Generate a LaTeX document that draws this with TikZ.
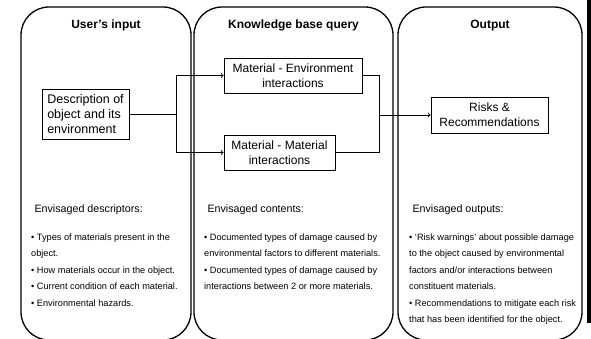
\documentclass[tikz,border=0pt]{standalone}
\usepackage{fontspec}
\setmainfont{Liberation Sans}
\usetikzlibrary{calc,positioning}

\begin{document}
\begin{tikzpicture}[x=1pt,y=-1pt,>=to,
  panel/.style={draw,line width=1.3pt,rounded corners=28pt},
  stepbox/.style={draw,line width=0.9pt,inner sep=0pt,align=center,minimum height=35pt,font=\fontsize{12}{15}\selectfont},
  title/.style={anchor=base,font=\fontsize{12}{14}\selectfont\bfseries},
  heading/.style={anchor=base west,font=\fontsize{10.7}{13}\selectfont},
  items/.style={anchor=north west,align=left,inner sep=0pt,font=\fontsize{9.2}{16.5}\selectfont},
  link/.style={line width=0.9pt}]
\useasboundingbox (0,0) rectangle (591,338);
\begin{scope}
\clip (0,0) rectangle (591,338);
\draw[panel] (21,7) rectangle (191,340);
\draw[panel] (194,7) rectangle (393,340);
\draw[panel] (398,7) rectangle (582,340);
\end{scope}
\fill (587,0) rectangle (591,323);

\node[title] (tin) at (106,28) {User's input};
\node[title] (tkb) at (293.5,28) {Knowledge base query};
\node[title] (tout) at (490,28) {Output};

\node[stepbox,align=left,minimum width=87pt,minimum height=50pt,font=\fontsize{12.5}{15}\selectfont] (desc) at (85.5,114) {Description of\\object and its\\environment};
\node[stepbox,minimum width=138pt] (me) at (293,75.5) {Material - Environment\\interactions};
\node[stepbox,minimum width=111pt] (mm) at (279.5,152.5) {Material - Material\\interactions};
\node[stepbox,minimum width=117pt,minimum height=36pt] (risk) at (489.5,115) {Risks \&\\Recommendations};

\coordinate (split) at ($(desc.east)+(47,0)$);
\coordinate (join) at ($(me.east)+(17,0)$);
\draw[link] (desc.east) -- (split);
\draw[link,->] (split) |- (me.west);
\draw[link,->] (split) |- (mm.west);
\draw[link] (me.east) -| (join) |- (mm.east);
\draw[link,->] (join |- risk.west) -- (risk.west);

\node[heading] (hin) at (31,212) {Envisaged descriptors:};
\node[heading] (hkb) at (204,212) {Envisaged contents:};
\node[heading] (hout) at (409,212) {Envisaged outputs:};

\node[items] (lin) at (31,233.3) {\textbullet{} Types of materials present in the\\object.\\\textbullet{} How materials occur in the object.\\\textbullet{} Current condition of each material.\\\textbullet{} Environmental hazards.};
\node[items] (lkb) at (204,233.3) {\textbullet{} Documented types of damage caused by\\environmental factors to different materials.\\\textbullet{} Documented types of damage caused by\\interactions between 2 or more materials.};
\node[items] (lout) at (409,233.3) {\textbullet{} `Risk warnings' about possible damage\\to the object caused by environmental\\factors and/or interactions between\\constituent materials.\\\textbullet{} Recommendations to mitigate each risk\\that has been identified for the object.};
\end{tikzpicture}
\end{document}
